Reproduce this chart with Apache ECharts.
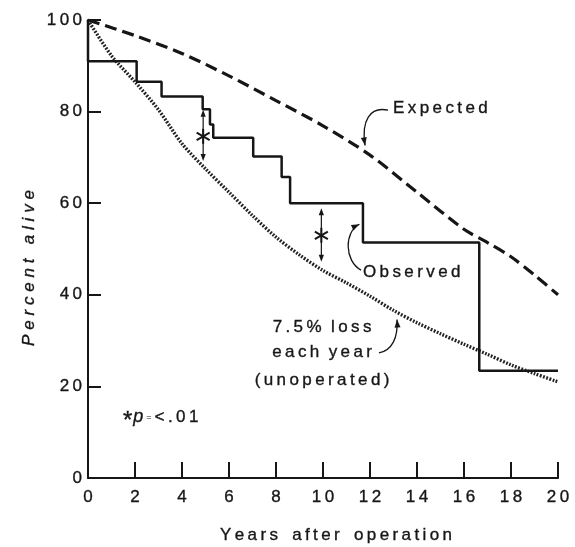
<!DOCTYPE html>
<html><head><meta charset="utf-8">
<script src="https://cdn.jsdelivr.net/npm/echarts@6/dist/echarts.min.js"></script>
<style>html,body{margin:0;padding:0;background:#fff}#c{width:575px;height:547px}</style>
</head><body><div id="c"></div>
<script>
// ---- data ----
const xTicks = [0, 2, 4, 6, 8, 10, 12, 14, 16, 18, 20];
const yTicks = [0, 20, 40, 60, 80, 100];
// Observed (step): each value holds until the paired time
const obsTimes  = [0, 2.07, 3.13, 4.88, 5.19, 5.33, 7.03, 8.24, 8.6, 11.7, 16.65, 20];
const obsValues = [100, 91, 86.5, 83.3, 80.5, 77.2, 74.3, 70.2, 65.7, 60, 51.4, 23.4];
// Expected survival (dashed)
const expYears  = [0, 2, 4, 6, 8, 10, 12, 14, 16, 17, 18, 19, 20];
const expValues = [100, 96.6, 92.7, 87.8, 82.4, 76.9, 70.5, 62.4, 54.3, 51.4, 48.3, 44.3, 40];
// 7.5% loss each year, unoperated (dotted)
const lossYears  = [0, 1, 2, 3, 4, 5, 6, 7, 8, 9, 10, 11, 12, 13, 14, 15, 16, 17, 18, 19, 20];
const lossValues = [100, 92.2, 86.5, 80.4, 73, 67.5, 62.4, 57.3, 52.6, 48.7, 45.3, 42.6, 39.7, 36.6, 33.9, 31.5, 29.2, 27, 24.7, 22.8, 21];

const FONT = '"Liberation Sans", Arial, sans-serif';
const INK = '#161616';
const sp = (s, gap) => Array.from(s).join(gap || '\u2009');
const BOLDEN = {textBorderColor: INK, textBorderWidth: 0.35};

const chart = echarts.init(document.getElementById('c'), null, {renderer: 'canvas'});
const axisCommon = {
  type: 'value',
  splitLine: {show: false},
  axisLine: {show: true, lineStyle: {color: INK, width: 2}},
  axisTick: {show: true, inside: true, lineStyle: {color: INK, width: 2}},
  axisLabel: Object.assign({color: INK, fontSize: 17, fontFamily: FONT, formatter: v => sp(String(v))}, BOLDEN)
};
chart.setOption({
  animation: false,
  backgroundColor: '#fff',
  grid: {left: 88, right: 17, top: 20, bottom: 69},
  xAxis: Object.assign({}, axisCommon, {
    min: xTicks[0], max: xTicks[xTicks.length - 1], interval: xTicks[1] - xTicks[0],
    axisTick: Object.assign({}, axisCommon.axisTick, {length: 16}),
    axisLabel: Object.assign({}, axisCommon.axisLabel, {margin: 11})
  }),
  yAxis: Object.assign({}, axisCommon, {
    min: yTicks[0], max: yTicks[yTicks.length - 1], interval: yTicks[1] - yTicks[0],
    axisTick: Object.assign({}, axisCommon.axisTick, {length: 13}),
    axisLabel: Object.assign({}, axisCommon.axisLabel, {margin: 6})
  }),
  series: [
    {
      name: 'Expected', type: 'line', smooth: 0.3, symbol: 'none', z: 2,
      data: expYears.map((t, i) => [t, expValues[i]]),
      lineStyle: {color: INK, width: 3.2, type: [12, 6]}
    },
    {
      name: '7.5% loss', type: 'line', smooth: 0.3, symbol: 'none', z: 2,
      data: lossYears.map((t, i) => [t, lossValues[i]]),
      lineStyle: {color: '#222', width: 3.4, type: [1.8, 1.5]}
    },
    {
      name: 'Observed', type: 'line', step: 'start', symbol: 'none', z: 3,
      data: obsTimes.map((t, i) => [t, obsValues[i]]),
      lineStyle: {color: INK, width: 2.5}
    }
  ]
});

// ---- annotations (placed in data units, converted to pixels) ----
const P = (x, y) => chart.convertToPixel({gridIndex: 0}, [x, y]);
const g = [];
function text(pt, str, opts) {
  g.push({type: 'text', x: pt[0], y: pt[1], z: 10,
    style: Object.assign({text: str, fill: INK, fontSize: 17, fontFamily: FONT,
      align: 'left', verticalAlign: 'middle', stroke: INK, lineWidth: 0.35}, opts || {})});
}
function head(tip, from, len, w) {
  const dx = tip[0] - from[0], dy = tip[1] - from[1];
  const L = Math.hypot(dx, dy) || 1, ux = dx / L, uy = dy / L;
  const bx = tip[0] - ux * len, by = tip[1] - uy * len;
  g.push({type: 'polygon', z: 10, shape: {points: [tip, [bx - uy * w, by + ux * w], [bx + uy * w, by - ux * w]]},
    style: {fill: INK}});
}
function curveArrow(a, c1, c2, b) {
  const p1 = P(a[0], a[1]), q1 = P(c1[0], c1[1]), q2 = P(c2[0], c2[1]), p2 = P(b[0], b[1]);
  g.push({type: 'bezierCurve', z: 10,
    shape: {x1: p1[0], y1: p1[1], cpx1: q1[0], cpy1: q1[1], cpx2: q2[0], cpy2: q2[1], x2: p2[0], y2: p2[1]},
    style: {stroke: INK, lineWidth: 1.3, fill: null}});
  head(p2, q2, 8, 3);
}
function starArrow(x, yTop, yBot, yStar) {
  const t = P(x, yTop), b = P(x, yBot), s = P(x, yStar);
  g.push({type: 'line', z: 10, shape: {x1: t[0], y1: t[1] + 4, x2: b[0], y2: b[1] - 4},
    style: {stroke: INK, lineWidth: 1.2}});
  head(t, [t[0], t[1] + 10], 7, 2.6);
  head(b, [b[0], b[1] - 10], 7, 2.6);
  const r = 7.5;
  [90, 30, 150].forEach(deg => {
    const a = deg * Math.PI / 180;
    g.push({type: 'line', z: 11,
      shape: {x1: s[0] - r * Math.cos(a), y1: s[1] - r * Math.sin(a), x2: s[0] + r * Math.cos(a), y2: s[1] + r * Math.sin(a)},
      style: {stroke: INK, lineWidth: 2}});
  });
}

text(P(12.98, 80.8), sp('Expected'));
curveArrow([12.77, 80.3], [12.0, 81.2], [11.62, 78.0], [11.79, 72.6]);

text(P(11.70, 45.0), sp('Observed'));
curveArrow([11.62, 45.4], [10.9, 47.4], [10.9, 53.8], [11.55, 55.4]);

const lx = 9.96;
text(P(lx, 33.0), sp('7.5%') + '  ' + sp('loss'), {align: 'center'});
text(P(lx, 27.5), sp('each') + '  ' + sp('year'), {align: 'center'});
text(P(lx, 21.4), sp('(unoperated)'), {align: 'center'});
curveArrow([12.38, 27.3], [12.94, 27.9], [13.2, 30.6], [13.15, 34.6]);

starArrow(4.9, 80.4, 69.2, 74.6);
starArrow(9.93, 58.9, 47.2, 53.0);

const pp = P(1.49, 13.3);
g.push({type: 'text', x: pp[0], y: pp[1], z: 10, style: {
  text: '{s|*}{i|p}{e|=}{n|' + sp('<.01') + '}', fontFamily: FONT, verticalAlign: 'middle', align: 'left',
  rich: {
    s: {fontSize: 24, fontFamily: FONT, fill: INK, stroke: INK, lineWidth: 0.4, padding: [8, 0, 0, 0]},
    i: {fontSize: 18, fontStyle: 'italic', fontFamily: FONT, fill: INK, stroke: INK, lineWidth: 0.35, padding: [0, 3, 0, 1]},
    e: {fontSize: 9, fontFamily: FONT, fill: INK, padding: [0, 3, 0, 0]},
    n: {fontSize: 17, fontFamily: FONT, fill: INK, stroke: INK, lineWidth: 0.35}
  }
}});

// axis titles
g.push({type: 'text', x: 29, y: 268, rotation: Math.PI / 2, z: 10, style: {
  text: sp('Percent', '\u2009\u200A') + '   ' + sp('alive', '\u2009\u200A'),
  fill: INK, stroke: INK, lineWidth: 0.35, fontSize: 17, fontStyle: 'italic', fontFamily: FONT, align: 'center', verticalAlign: 'middle'}});
g.push({type: 'text', x: 336, y: 535, z: 10, style: {
  text: sp('Years') + '   ' + sp('after') + '   ' + sp('operation'),
  fill: INK, stroke: INK, lineWidth: 0.35, fontSize: 17, fontFamily: FONT, align: 'center', verticalAlign: 'middle'}});

chart.setOption({graphic: g});
</script>
</body></html>
